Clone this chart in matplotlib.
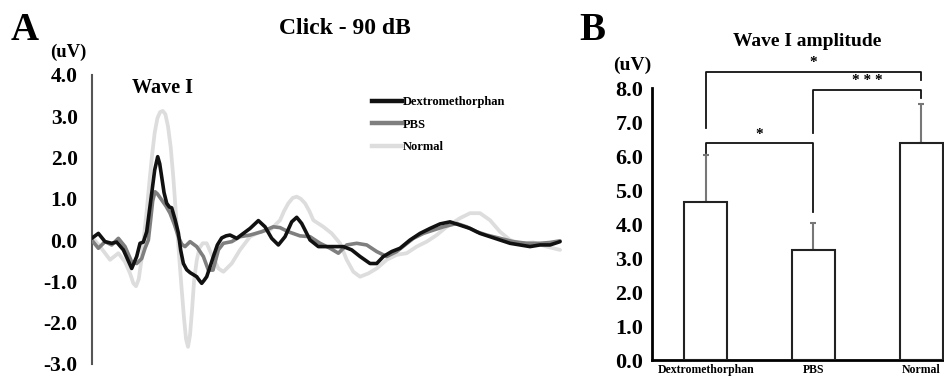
import matplotlib
matplotlib.use("Agg")
import matplotlib.pyplot as plt
from matplotlib.lines import Line2D

plt.rcParams['font.family'] = ['Liberation Serif', 'DejaVu Serif']
plt.rcParams['font.weight'] = 'bold'

# ---------------- Panel A data (x in arbitrary time units, y in uV) ----------------
dex_x = [35, 55, 75, 95, 110, 130, 155, 170, 180, 190, 200, 208, 215, 224, 233, 239, 245, 252,
         260, 268, 275, 285, 295, 302, 310, 320, 330, 340, 350, 358, 365, 372, 380, 390, 400,
         412, 425, 438, 450, 470, 490, 510, 535, 555, 575, 595, 615,
         635, 650, 665, 690, 715, 740, 765, 790, 815, 840, 870, 890, 910, 935, 960, 990, 1020,
         1050, 1080, 1110, 1140, 1170, 1200, 1230, 1260, 1290, 1320, 1350, 1380, 1410, 1440]
dex_y = [0.04, 0.16, -0.04, -0.08, -0.05, -0.24, -0.69, -0.40, -0.08, -0.05, 0.20, 0.70, 1.13,
         1.70, 2.02, 1.85, 1.53, 1.15, 0.89, 0.80, 0.78, 0.50, 0.17, -0.25, -0.57, -0.72,
         -0.79, -0.84, -0.89, -0.98, -1.05, -0.98, -0.89, -0.65, -0.40, -0.12, 0.05, 0.10,
         0.12, 0.04, 0.16, 0.28, 0.47, 0.32, 0.04, -0.12, 0.08, 0.44, 0.55, 0.40, 0.00, -0.16,
         -0.16, -0.16, -0.16, -0.24, -0.40, -0.57, -0.57, -0.40, -0.28, -0.20, 0.00, 0.16, 0.28,
         0.39, 0.44, 0.36, 0.28, 0.16, 0.08, 0.00, -0.08, -0.12, -0.16, -0.12, -0.12, -0.04]

pbs_x = [35, 55, 75, 95, 115, 135, 155, 170, 185, 195, 205, 212, 218, 225, 232, 245, 258, 270,
         283, 295, 305, 315, 330, 350, 370, 385, 399, 415, 430, 455, 480, 510, 545, 580, 600,
         625, 660, 690, 720, 750, 775,
         800, 830, 860, 890, 920, 950, 975, 1000, 1030, 1060, 1090, 1130, 1160, 1190, 1220,
         1260, 1300, 1340, 1380, 1410, 1440]
pbs_y = [0.00, -0.20, -0.04, -0.12, 0.04, -0.16, -0.53, -0.57, -0.45, -0.20, 0.00, 0.50, 0.95,
         1.17, 1.12, 0.97, 0.82, 0.65, 0.38, 0.08, -0.10, -0.16, -0.04, -0.16, -0.40, -0.73,
         -0.73, -0.24, -0.08, -0.04, 0.08, 0.12, 0.20, 0.32, 0.30, 0.20, 0.10, 0.08, -0.08,
         -0.20, -0.32, -0.12, -0.08, -0.12, -0.28,
         -0.40, -0.28, -0.12, 0.04, 0.16, 0.24, 0.32, 0.40, 0.32, 0.20, 0.12, 0.04, -0.04,
         -0.08, -0.08, -0.06, -0.02]

nor_x = [35, 60, 90, 115, 135, 150, 160, 168, 176, 184, 192, 200, 208, 216, 224, 232, 240, 248,
         256, 264, 272, 280, 288, 296, 304, 312, 318, 324, 330, 336, 342, 350, 358, 368, 380,
         395, 415, 430, 455, 480, 510, 540, 570, 600, 612, 625, 638, 650, 662, 675, 688, 700,
         730, 755, 780, 800, 820, 840, 865, 890, 920, 950, 980, 1010, 1040, 1070, 1100, 1140,
         1170, 1200, 1230, 1260, 1290, 1320, 1360, 1400, 1440]
nor_y = [0.08, -0.16, -0.48, -0.32, -0.53, -0.81, -1.05, -1.12, -0.95, -0.50, 0.10, 0.70, 1.40,
         2.05, 2.60, 2.95, 3.10, 3.13, 3.05, 2.75, 2.25, 1.50, 0.60, -0.25, -1.10, -1.90, -2.40,
         -2.59, -2.30, -1.70, -1.00, -0.50, -0.20, -0.08, -0.08, -0.36, -0.69, -0.77, -0.57,
         -0.24, 0.08, 0.20, 0.24, 0.48, 0.70, 0.89, 1.02, 1.05, 1.00, 0.89, 0.70, 0.48, 0.32,
         0.16, -0.08, -0.48, -0.77, -0.89, -0.81, -0.69, -0.48, -0.36, -0.32, -0.16, -0.04,
         0.12, 0.32, 0.53, 0.65, 0.65, 0.48, 0.20, 0.00, -0.08, -0.06, -0.16, -0.24]

a_yticks = [4.0, 3.0, 2.0, 1.0, 0.0, -1.0, -2.0, -3.0]

# ---------------- Panel B data ----------------
groups = ['Dextromethorphan', 'PBS', 'Normal']
amp_mean = [4.65, 3.25, 6.40]
amp_err = [1.40, 0.77, 1.14]
b_yticks = [0.0, 1.0, 2.0, 3.0, 4.0, 5.0, 6.0, 7.0, 8.0]
# brackets: (left idx, right idx, bar height, left drop end, right drop end, label)
brackets = [
    (0, 2, 8.49, 6.84, 8.24, '*'),
    (1, 2, 7.95, 6.67, 7.71, '* * *'),
    (0, 1, 6.38, 6.10, 4.35, '*'),
]

W, H = 944, 378
fig = plt.figure(figsize=(W / 100, H / 100), dpi=100)

def px_axes(x0, y_top, x1, y_bot):
    return fig.add_axes([x0 / W, 1 - y_bot / H, (x1 - x0) / W, (y_bot - y_top) / H])

# ---------------- Panel A ----------------
axA = px_axes(91.7, 75, 561.7, 363.75)
kw = dict(solid_joinstyle='round', solid_capstyle='round')
axA.plot(nor_x, nor_y, color='#dddddd', lw=2.7, label='Normal', zorder=2, **kw)
axA.plot(pbs_x, pbs_y, color='#7f7f7f', lw=2.6, label='PBS', zorder=3, **kw)
axA.plot(dex_x, dex_y, color='#111111', lw=2.6, label='Dextromethorphan', zorder=4, **kw)
axA.set_xlim(35, 1445)
axA.set_ylim(-3, 4)
for s in ['top', 'right', 'bottom']:
    axA.spines[s].set_visible(False)
axA.spines['left'].set_color('#555555')
axA.spines['left'].set_linewidth(1.5)
axA.set_xticks([])
axA.set_yticks(a_yticks)
axA.set_yticklabels([f'{v:.1f}' for v in a_yticks], fontsize=15.5, fontweight='bold')
axA.tick_params(axis='y', length=0, pad=10)
axA.patch.set_alpha(0)

handles = [Line2D([], [], color='#111111', lw=3.2),
           Line2D([], [], color='#7f7f7f', lw=3.2),
           Line2D([], [], color='#dddddd', lw=3.2)]
leg = axA.legend(handles, ['Dextromethorphan', 'PBS', 'Normal'], loc='upper left',
                 bbox_to_anchor=((372 - 91.7) / 470, (363.75 - 96) / 288.75),
                 frameon=False, handlelength=2.4, handletextpad=0.1, labelspacing=0.85,
                 borderaxespad=0, borderpad=0, prop={'size': 9, 'weight': 'bold'})

fig.text(25 / W, 1 - 30 / H, 'A', fontsize=28, fontweight='bold', ha='center', va='center')
fig.text(345 / W, 1 - 29 / H, 'Click - 90 dB', fontsize=17, fontweight='bold', ha='center', va='center')
fig.text(68 / W, 1 - 52 / H, '(uV)', fontsize=13.5, fontweight='bold', ha='center', va='center')
fig.text(162 / W, 1 - 88 / H, 'Wave I', fontsize=14.5, fontweight='bold', ha='center', va='center')

# ---------------- Panel B ----------------
axB = px_axes(651.7, 88.3, 944, 360)
xs = list(range(len(groups)))
axB.bar(xs, amp_mean, width=0.4, color='white', edgecolor='#222222', linewidth=1.5, zorder=3)
axB.errorbar(xs, amp_mean, yerr=[[0] * len(xs), amp_err], fmt='none', ecolor='#777777',
             elinewidth=1.5, capsize=2, capthick=1.5, zorder=2)
axB.set_xlim(-0.5, 2.21)
axB.set_ylim(0, 8)
for s in ['top', 'right']:
    axB.spines[s].set_visible(False)
axB.spines['left'].set_linewidth(2)
axB.spines['bottom'].set_linewidth(2)
axB.set_yticks(b_yticks)
axB.set_yticklabels([f'{v:.1f}' for v in b_yticks], fontsize=16, fontweight='bold')
axB.set_xticks(xs)
axB.set_xticklabels(groups, fontsize=8.5, fontweight='bold')
axB.tick_params(axis='both', length=0)
axB.tick_params(axis='y', pad=6)
axB.tick_params(axis='x', pad=3)

for li, ri, h, ld, rd, lab in brackets:
    axB.plot([li, li, ri, ri], [ld, h, h, rd], color='#111111', lw=1.3, clip_on=False, zorder=5)
    axB.text((li + ri) / 2, h + 0.08, lab, ha='center', va='bottom', fontsize=11,
             fontweight='bold', clip_on=False)

fig.text(592 / W, 1 - 30 / H, 'B', fontsize=28, fontweight='bold', ha='center', va='center')
fig.text(807 / W, 1 - 42 / H, 'Wave I amplitude', fontsize=14, fontweight='bold', ha='center', va='center')
fig.text(632 / W, 1 - 65 / H, '(uV)', fontsize=14, fontweight='bold', ha='center', va='center')

fig.savefig('out.png', dpi=100)
